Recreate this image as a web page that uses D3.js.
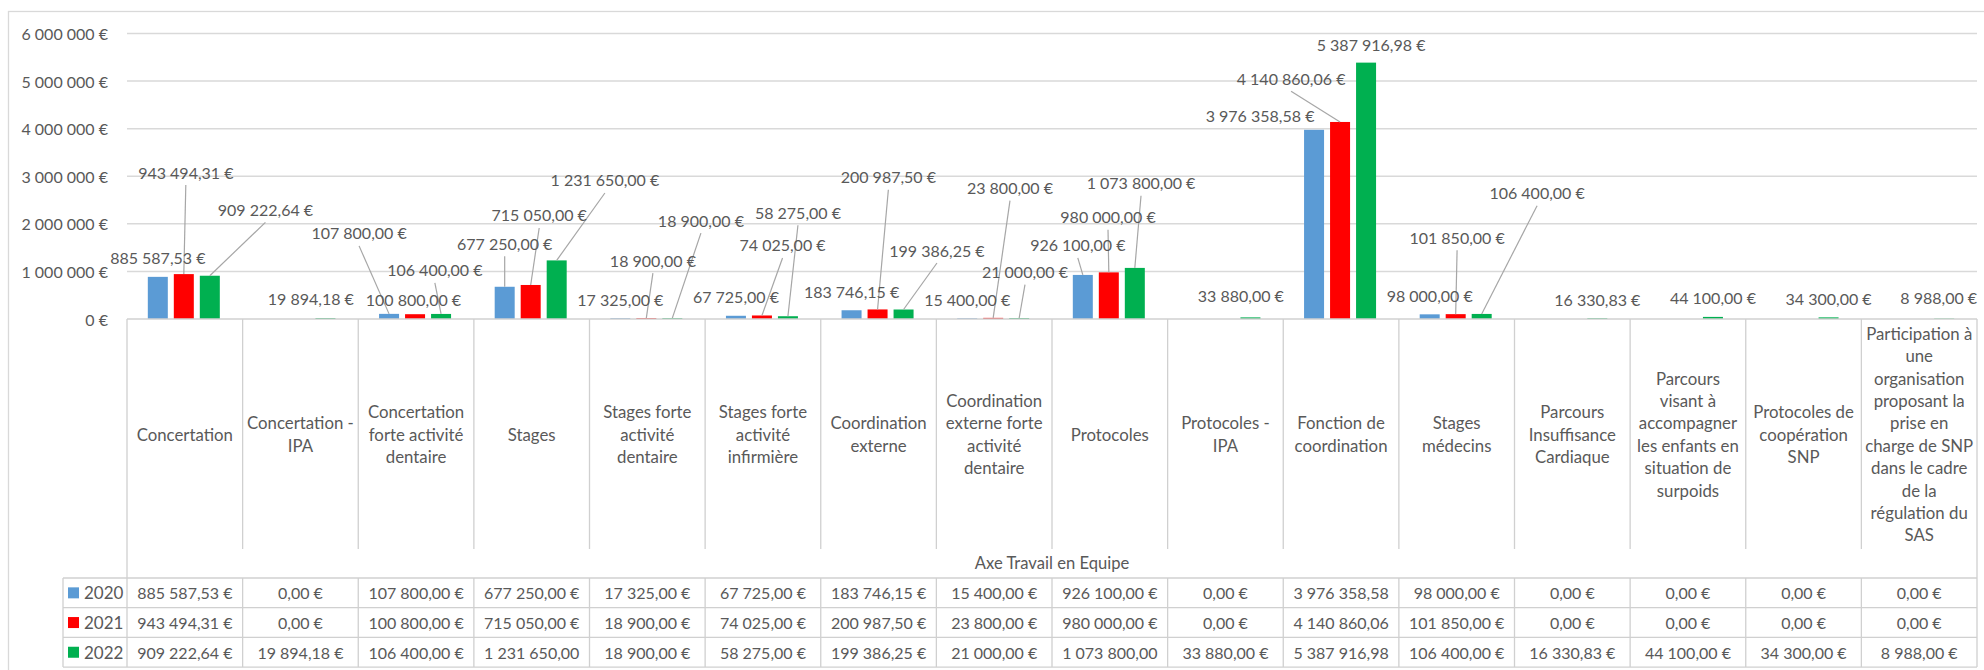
<!DOCTYPE html>
<html>
<head>
<meta charset="utf-8">
<script src="https://cdn.jsdelivr.net/npm/d3@7"></script>
<style>
  html, body { margin: 0; padding: 0; background: #fff; }
  svg { display: block; }
  text { font-family: Lato, "Open Sans", sans-serif; fill: #595959; }
</style>
</head>
<body>
<svg id="chart" width="1984" height="670"></svg>
<script>
// ---------------- DATA ----------------
const categories = [
  "Concertation",
  "Concertation -\nIPA",
  "Concertation\nforte activité\ndentaire",
  "Stages",
  "Stages forte\nactivité\ndentaire",
  "Stages forte\nactivité\ninfirmière",
  "Coordination\nexterne",
  "Coordination\nexterne forte\nactivité\ndentaire",
  "Protocoles",
  "Protocoles -\nIPA",
  "Fonction de\ncoordination",
  "Stages\nmédecins",
  "Parcours\nInsuffisance\nCardiaque",
  "Parcours\nvisant à\naccompagner\nles enfants en\nsituation de\nsurpoids",
  "Protocoles de\ncoopération\nSNP",
  "Participation à\nune\norganisation\nproposant la\nprise en\ncharge de SNP\ndans le cadre\nde la\nrégulation du\nSAS"
];
const years = ["2020", "2021", "2022"];
const values2020 = [885587.53, 0, 107800, 677250, 17325, 67725, 183746.15, 15400, 926100, 0, 3976358.58, 98000, 0, 0, 0, 0];
const values2021 = [943494.31, 0, 100800, 715050, 18900, 74025, 200987.50, 23800, 980000, 0, 4140860.06, 101850, 0, 0, 0, 0];
const values2022 = [909222.64, 19894.18, 106400, 1231650, 18900, 58275, 199386.25, 21000, 1073800, 33880, 5387916.98, 106400, 16330.83, 44100, 34300, 8988];
const yTicks = [0, 1000000, 2000000, 3000000, 4000000, 5000000, 6000000];
const axisTitle = "Axe Travail en Equipe";

// ---------------- LAYOUT (label placement, px offsets from bar top-centre) ----------------
const labelLayout2020 = [null, null, [-30, -81, 1], [0, -43.5, 1], null, null, null, null, [-5, -30, 1], null, [-54, -14, 0], null, null, null, null, null];
const labelLayout2021 = [[2, -102, 1], null, [-1.6, -15, 0], [8.5, -70, 1], [6.6, -58, 1], [20.6, -70.5, 1], [10.8, -132.7, 1], [16.8, -130.2, 1], [-0.8, -55.7, 1], null, [-49, -43.7, 1], [1.4, -77, 1], null, null, null, null];
const labelLayout2022 = [[55.6, -66.4, 1], [-14.6, -19.7, 0], [-6.2, -44, 1], [48.2, -80.4, 1], [28.6, -98, 1], [10, -104, 1], [33.4, -59.5, 1], [5.8, -46.3, 1], [6.2, -85.2, 1], [-9.6, -21.4, 0], [5, -18.6, 0], [55.4, -121.2, 1], null, null, null, [-5.5, -21, 0]];

const seriesColors = ["#5B9BD5", "#FF0000", "#00B050"];
const seriesValues = [values2020, values2021, values2022];
const seriesLayout = [labelLayout2020, labelLayout2021, labelLayout2022];

// ---------------- GEOMETRY ----------------
const plotLeft = 127, plotRight = 1977;
const plotTop = 33.5, plotBottom = 319;
const catBottom = 549;
const tableTop = 578, rowH = 29.7;
const legendLeft = 63;
const fontSize = 16;
const catFontSize = 16.8;
const gridColor = "#d9d9d9";
const tableColor = "#d0d0d0";

const fr = d3.formatLocale({decimal: ",", thousands: "\u00a0", grouping: [3], currency: ["", "\u00a0€"]});
const fmtVal = fr.format("$,.2f");
const fmtAxis = fr.format("$,.0f");

const svg = d3.select("#chart");

// outer frame
svg.append("rect").attr("x", 8.5).attr("y", 11.5).attr("width", 1990).attr("height", 680)
  .attr("fill", "none").attr("stroke", gridColor).attr("stroke-width", 1.3);

const x0 = d3.scaleBand().domain(d3.range(categories.length)).range([plotLeft, plotRight]).padding(0);
const colW = x0.bandwidth();
const x1 = d3.scaleBand().domain(years).range([-37, 35]).paddingInner(0.2308).paddingOuter(0);
const y = d3.scaleLinear().domain([0, 6000000]).range([plotBottom, plotTop]);

// gridlines
svg.append("g").selectAll("line").data(yTicks.filter(d => d > 0)).join("line")
  .attr("x1", plotLeft).attr("x2", plotRight)
  .attr("y1", d => y(d)).attr("y2", d => y(d))
  .attr("stroke", gridColor).attr("stroke-width", 1.5);

// y axis labels
svg.append("g").selectAll("text").data(yTicks).join("text")
  .attr("x", 108).attr("y", d => y(d)).attr("text-anchor", "end")
  .attr("dominant-baseline", "central").attr("font-size", fontSize)
  .text(d => fmtAxis(d));

// bars
const barData = [];
seriesValues.forEach((vals, s) => vals.forEach((v, i) => barData.push({s, i, v})));
svg.append("g").selectAll("rect").data(barData).join("rect")
  .attr("x", d => x0(d.i) + colW / 2 + x1(years[d.s]))
  .attr("width", x1.bandwidth())
  .attr("y", d => y(d.v))
  .attr("height", d => Math.max(0, plotBottom - y(d.v)))
  .attr("fill", d => seriesColors[d.s]);

// data labels + leader lines
const labData = barData.filter(d => d.v > 0).map(d => {
  const lay = seriesLayout[d.s][d.i] || [0, -19, 0];
  const bx = x0(d.i) + colW / 2 + x1(years[d.s]) + x1.bandwidth() / 2;
  const by = y(d.v);
  return {...d, bx, by, lx: bx + lay[0], ly: by + lay[1], leader: lay[2]};
});
svg.append("g").selectAll("line").data(labData.filter(d => d.leader)).join("line")
  .attr("x1", d => d.lx).attr("y1", d => d.ly + 13)
  .attr("x2", d => d.bx).attr("y2", d => d.by)
  .attr("stroke", "#a6a6a6").attr("stroke-width", 1.2);
svg.append("g").selectAll("text").data(labData).join("text")
  .attr("x", d => d.lx).attr("y", d => d.ly)
  .attr("text-anchor", "middle").attr("dominant-baseline", "central")
  .attr("font-size", fontSize)
  .text(d => fmtVal(d.v));

// category area lines
const tg = svg.append("g").attr("stroke", tableColor).attr("stroke-width", 1.3);
tg.append("line").attr("x1", plotLeft).attr("x2", plotRight).attr("y1", plotBottom).attr("y2", plotBottom);
tg.selectAll("line.div").data(d3.range(1, categories.length)).join("line").attr("class", "div")
  .attr("x1", d => x0(d)).attr("x2", d => x0(d)).attr("y1", plotBottom).attr("y2", catBottom);
tg.append("line").attr("x1", plotLeft).attr("x2", plotLeft).attr("y1", plotBottom).attr("y2", tableTop + 3 * rowH);
tg.append("line").attr("x1", plotRight).attr("x2", plotRight).attr("y1", plotBottom).attr("y2", tableTop + 3 * rowH);

// table grid
tg.selectAll("line.row").data(d3.range(4)).join("line").attr("class", "row")
  .attr("x1", legendLeft).attr("x2", plotRight)
  .attr("y1", d => tableTop + d * rowH).attr("y2", d => tableTop + d * rowH);
tg.append("line").attr("x1", legendLeft).attr("x2", legendLeft).attr("y1", tableTop).attr("y2", tableTop + 3 * rowH);
tg.selectAll("line.tcol").data(d3.range(1, categories.length)).join("line").attr("class", "tcol")
  .attr("x1", d => x0(d)).attr("x2", d => x0(d)).attr("y1", tableTop).attr("y2", tableTop + 3 * rowH);

// category labels
const lineH = 22.4;
const catMid = (plotBottom + catBottom) / 2;
categories.forEach((c, i) => {
  const lines = c.split("\n");
  const t = svg.append("text").attr("text-anchor", "middle").attr("font-size", catFontSize);
  lines.forEach((ln, k) => {
    t.append("tspan").attr("x", x0(i) + colW / 2)
      .attr("y", catMid + (k - (lines.length - 1) / 2) * lineH)
      .attr("dominant-baseline", "central").text(ln);
  });
});

// axis title
svg.append("text").attr("x", (plotLeft + plotRight) / 2).attr("y", 563)
  .attr("text-anchor", "middle").attr("dominant-baseline", "central")
  .attr("font-size", 16.6).text(axisTitle);

// table legend + values
years.forEach((yr, s) => {
  const cy = tableTop + (s + 0.5) * rowH;
  svg.append("rect").attr("x", 68).attr("y", cy - 5.5).attr("width", 11).attr("height", 11).attr("fill", seriesColors[s]);
  svg.append("text").attr("x", 84).attr("y", cy).attr("dominant-baseline", "central")
    .attr("font-size", fontSize + 1).text(yr);
  seriesValues[s].forEach((v, i) => {
    const t = svg.append("text").attr("x", x0(i) + colW / 2).attr("y", cy)
      .attr("text-anchor", "middle").attr("dominant-baseline", "central")
      .attr("font-size", fontSize).text(fmtVal(v));
    if (t.node().getComputedTextLength() > colW * 0.9) t.text(fmtVal(v).replace(/\u00a0€$/, ""));
  });
});
</script>
</body>
</html>
